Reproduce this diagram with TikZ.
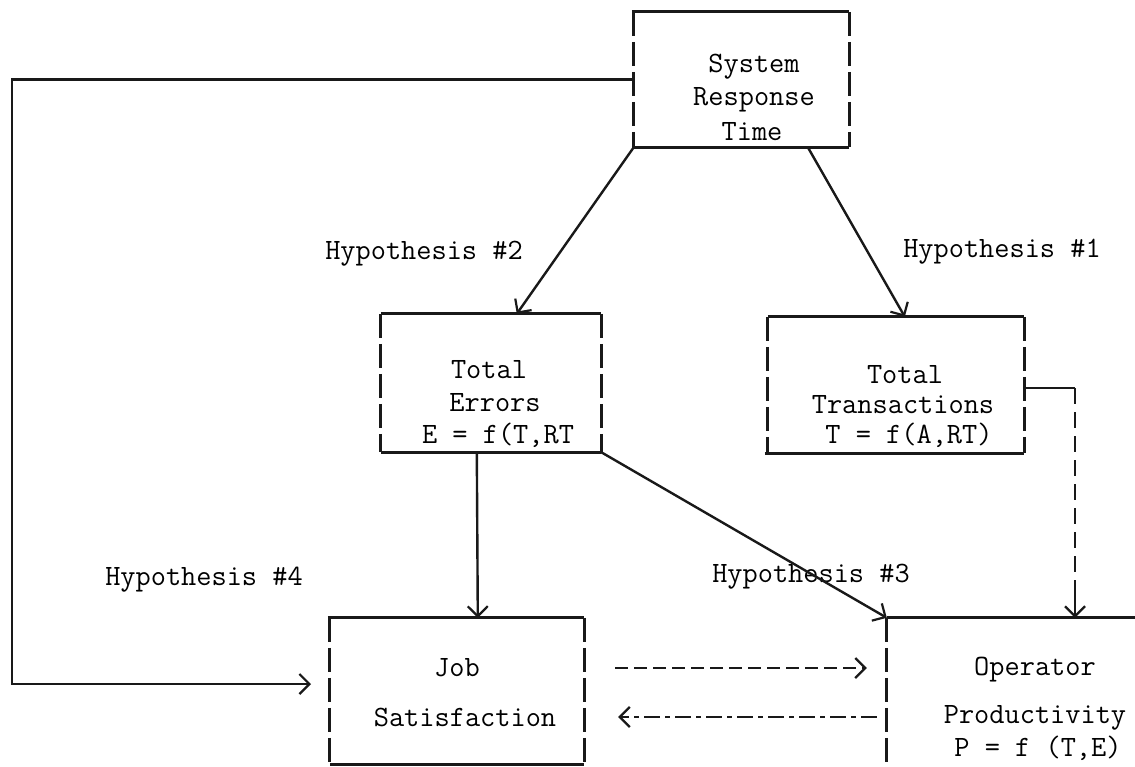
\documentclass[tikz,border=0pt]{standalone}
\usepackage{fontspec}
\usetikzlibrary{arrows.meta,calc}
\begin{document}
\begin{tikzpicture}[x=1pt,y=-1pt,
  every node/.style={font=\ttfamily\fontsize{29.5}{32}\selectfont, inner sep=0pt},
  boxnode/.style={rectangle, minimum width=#1},
  solidline/.style={line width=2.8pt, draw=black!90},
  sideline/.style={line width=2.8pt, draw=black!90, dash pattern=on 24pt off 6pt},
  arr/.style={line width=2.4pt, draw=black!90, -{Straight Barb[length=10pt,width=20pt,line width=2.2pt]}},
  dasharr/.style={arr, dash pattern=on 13pt off 6pt},
  dotdasharr/.style={arr, dash pattern=on 16pt off 5pt on 5pt off 5pt},
  dashline/.style={line width=2.4pt, draw=black!90, dash pattern=on 16pt off 8pt},
  lbl/.style={anchor=center}
]
\useasboundingbox (0,0) rectangle (1135,766);

% box frames (named nodes)
\node[boxnode=215pt, minimum height=135pt] (srt) at (741.5,79.5) {};
\node[boxnode=220pt, minimum height=138pt] (te) at (491,383) {};
\node[boxnode=256pt, minimum height=136pt] (tt) at (896,385) {};
\node[boxnode=254pt, minimum height=146pt] (js) at (457,691) {};
\node[boxnode=248pt, minimum height=148pt] (op) at (1011,692) {};

% System Response Time
\draw[solidline] ([xshift=-2pt]srt.north west) -- (srt.north east);
\draw[solidline] ([xshift=-2pt]srt.south west) -- (srt.south east);
\draw[sideline] (srt.north west) -- (srt.south west);
\draw[sideline] (srt.north east) -- (srt.south east);
\node[lbl] (srt1) at (754,67) {System};
\node[lbl] (srt2) at (754,100) {Response};
\node[lbl] (srt3) at (752,132) {Time};

% Total Errors
\draw[solidline] (te.north west) -- (te.north east);
\draw[solidline] (te.south west) -- (te.south east);
\draw[sideline] (te.north west) -- (te.south west);
\draw[sideline] (te.north east) -- (te.south east);
\node[lbl] (te1) at (489,370) {Total};
\node[lbl] (te2) at (495,403) {Errors};
\node[lbl] (te3) at (498,435) {E = f(T,RT};

% Total Transactions
\draw[solidline] (tt.north west) -- (tt.north east);
\draw[solidline] ([xshift=-3pt]tt.south west) -- (tt.south east);
\draw[sideline] (tt.north west) -- (tt.south west);
\draw[sideline] (tt.north east) -- (tt.south east);
\node[lbl] (tt1) at (905,375) {Total};
\node[lbl] (tt2) at (903,405) {Transactions};
\node[lbl] (tt3) at (909,435) {T = f(A,RT)};

% Job Satisfaction
\draw[solidline] ([xshift=-2pt]js.north west) -- (js.north east);
\draw[solidline] (js.south west) -- (js.south east);
\draw[sideline] (js.north west) -- (js.south west);
\draw[sideline] (js.north east) -- (js.south east);
\node[lbl] (js1) at (457,668) {Job};
\node[lbl] (js2) at (465,717) {Satisfaction};

% Operator Productivity
\draw[solidline] (op.north west) -- (op.north east);
\draw[sideline] (op.north west) -- (op.south west);
\node[lbl] (op1) at (1035,670) {Operator};
\node[lbl] (op2) at (1035,718) {Productivity};
\node[lbl] (op3) at (1038,748) {P = f (T,E)};

% hypothesis labels
\node[lbl] (h1) at (1002,252) {Hypothesis \#1};
\node[lbl] (h2) at (424,254) {Hypothesis \#2};
\node[lbl] (h3) at (811,577) {Hypothesis \#3};
\node[lbl] (h4) at (204,580) {Hypothesis \#4};

% connectors
\coordinate (c4a) at (12,79.5);
\coordinate (c4b) at (12,684);
\coordinate (c4end) at (311,684);
\draw[arr] (srt.west) -- (c4a) -- (c4b) -- (c4end);

\draw[arr] (srt.south west) -- ($(te.north west)+(136,0)$);
\draw[arr] ($(srt.south west)+(174,0)$) -- ($(tt.north west)+(137,0)$);

\draw[arr] ($(te.south west)+(96,0)$) -- ($(js.north west)+(148,0)$);
\draw[arr] (te.south east) -- (op.north west);

\coordinate (ttc) at (1075,388);
\draw[solidline] (tt.east |- ttc) -- (ttc);
\draw[dashline] (ttc) -- ++(0,200);
\draw[arr] ($(ttc)+(0,200)$) -- (op.north -| ttc);

\draw[dasharr] ($(js.east)+(31,-23)$) -- ($(op.west)+(-20,-24)$);
\draw[dotdasharr] ($(op.west)+(-10,25)$) -- ($(js.east)+(34,26)$);
\end{tikzpicture}
\end{document}
